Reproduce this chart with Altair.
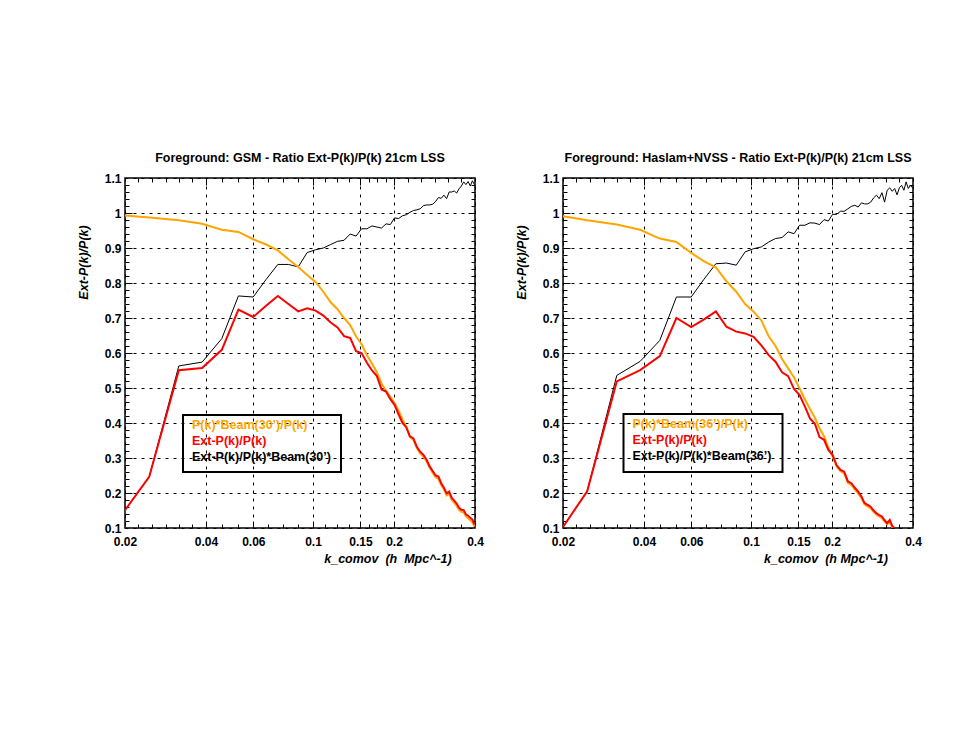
import altair as alt
import pandas as pd

# ---------------- data ----------------
K = [0.02, 0.0246, 0.0317, 0.0387, 0.0458, 0.0528, 0.0599, 0.0669, 0.0740, 0.0810,
     0.0881, 0.0951, 0.1022, 0.1092, 0.1163, 0.1233, 0.1304, 0.1374, 0.1445, 0.1515,
     0.1586, 0.1656, 0.1727, 0.1797, 0.1868, 0.1938, 0.2009, 0.2079, 0.2150, 0.2220,
     0.2291, 0.2361, 0.2432, 0.2502, 0.2573, 0.2643, 0.2714, 0.2784, 0.2855, 0.2925,
     0.2996, 0.3066, 0.3137, 0.3207, 0.3278, 0.3348, 0.3419, 0.3489, 0.3560, 0.3630,
     0.3701, 0.3771, 0.3842, 0.3912, 0.3983]

# Left panel: GSM
GSM_EXT_BEAM = [0.151, 0.246, 0.563, 0.574, 0.641, 0.763, 0.760, 0.810, 0.853, 0.853,
                0.846, 0.887, 0.895, 0.900, 0.910, 0.919, 0.922, 0.940, 0.934, 0.955,
                0.955, 0.963, 0.960, 0.957, 0.969, 0.967, 0.986, 0.984, 0.992, 0.995,
                1.002, 1.007, 1.009, 1.012, 1.021, 1.023, 1.023, 1.025, 1.033, 1.044,
                1.042, 1.051, 1.041, 1.060, 1.060, 1.063, 1.057, 1.069, 1.077, 1.089,
                1.081, 1.090, 1.077, 1.092, 1.081]
GSM_BEAM = [0.993, 0.987, 0.979, 0.969, 0.952, 0.946, 0.925, 0.910, 0.893, 0.868,
            0.846, 0.823, 0.803, 0.775, 0.745, 0.725, 0.700, 0.680, 0.648, 0.625,
            0.594, 0.570, 0.545, 0.513, 0.492, 0.475, 0.457, 0.435, 0.410, 0.390,
            0.360, 0.352, 0.328, 0.313, 0.304, 0.290, 0.272, 0.258, 0.245, 0.240,
            0.222, 0.210, 0.193, 0.198, 0.180, 0.172, 0.163, 0.152, 0.146, 0.144,
            0.133, 0.128, 0.122, 0.116, 0.104]
GSM_EXT = [0.151, 0.246, 0.551, 0.557, 0.609, 0.724, 0.703, 0.735, 0.763, 0.740,
           0.719, 0.728, 0.721, 0.707, 0.687, 0.673, 0.648, 0.643, 0.605, 0.600,
           0.572, 0.550, 0.534, 0.496, 0.490, 0.468, 0.452, 0.425, 0.400, 0.388,
           0.362, 0.356, 0.332, 0.318, 0.309, 0.295, 0.276, 0.263, 0.250, 0.247,
           0.228, 0.215, 0.199, 0.204, 0.186, 0.178, 0.170, 0.158, 0.152, 0.151,
           0.139, 0.135, 0.129, 0.124, 0.110]

# Right panel: Haslam+NVSS
HN_EXT_BEAM = [0.103, 0.205, 0.536, 0.576, 0.636, 0.760, 0.760, 0.811, 0.855, 0.857,
               0.851, 0.889, 0.898, 0.903, 0.917, 0.927, 0.930, 0.946, 0.941, 0.965,
               0.965, 0.972, 0.971, 0.967, 0.981, 0.977, 0.996, 0.996, 1.005, 1.005,
               1.012, 1.019, 1.022, 1.017, 1.029, 1.026, 1.026, 1.031, 1.043, 1.051,
               1.041, 1.058, 1.031, 1.065, 1.072, 1.062, 1.070, 1.052, 1.072, 1.079,
               1.065, 1.089, 1.070, 1.079, 1.072]
HN_BEAM = [0.991, 0.979, 0.967, 0.952, 0.927, 0.917, 0.886, 0.862, 0.845, 0.805,
           0.775, 0.740, 0.718, 0.693, 0.648, 0.620, 0.583, 0.556, 0.530, 0.499,
           0.468, 0.440, 0.415, 0.385, 0.362, 0.330, 0.305, 0.276, 0.262, 0.256,
           0.229, 0.223, 0.210, 0.199, 0.185, 0.167, 0.162, 0.156, 0.146, 0.138,
           0.133, 0.128, 0.118, 0.110, 0.118, 0.102, 0.095, 0.088]
HN_EXT = [0.103, 0.205, 0.519, 0.551, 0.591, 0.700, 0.674, 0.696, 0.719, 0.675,
          0.661, 0.656, 0.646, 0.622, 0.594, 0.575, 0.545, 0.534, 0.497, 0.480,
          0.447, 0.413, 0.398, 0.360, 0.352, 0.323, 0.309, 0.280, 0.266, 0.261,
          0.233, 0.228, 0.215, 0.204, 0.190, 0.171, 0.166, 0.161, 0.150, 0.142,
          0.137, 0.133, 0.122, 0.114, 0.123, 0.106, 0.099, 0.092]

# axis ticks / labels
X_LABELS = [0.02, 0.04, 0.06, 0.1, 0.15, 0.2, 0.4]
X_MAJOR = [0.04, 0.06, 0.1, 0.15, 0.2]
X_MINOR = [0.0224, 0.0252, 0.0283, 0.0317, 0.0356, 0.0458, 0.0524, 0.0682, 0.0775,
           0.0880, 0.1107, 0.1225, 0.1356, 0.1612, 0.1732, 0.1861, 0.2245, 0.2520,
           0.2830, 0.3170, 0.3560]
Y_LABELS = [0.1, 0.2, 0.3, 0.4, 0.5, 0.6, 0.7, 0.8, 0.9, 1.0, 1.1]
Y_TICKS = [round(0.1 + 0.02 * i, 2) for i in range(1, 50)]

TITLES = ["Foreground: GSM - Ratio Ext-P(k)/P(k) 21cm LSS",
          "Foreground: Haslam+NVSS - Ratio Ext-P(k)/P(k) 21cm LSS"]
X_TITLES = ["k_comov\u00a0\u00a0(h\u00a0\u00a0Mpc^-1)", "k_comov\u00a0\u00a0(h Mpc^-1)"]
Y_TITLE = "Ext-P(k)/P(k)"
LEGENDS = [["P(k)*Beam(30\u2019)/P(k)", "Ext-P(k)/P(k)", "Ext-P(k)/P(k)*Beam(30\u2019)"],
           ["P(k)*Beam(36\u2019)/P(k)", "Ext-P(k)/P(k)", "Ext-P(k)/P(k)*Beam(36\u2019)"]]

ORANGE = "#FFA500"
RED = "#FF0000"
BLACK = "#000000"
LEGEND_COLORS = [ORANGE, RED, BLACK]
FONT = "Liberation Sans"
W = 350
H = 350

xscale = alt.Scale(type="log", domain=[0.02, 0.4], nice=False)
yscale = alt.Scale(domain=[0.1, 1.1], nice=False, zero=False)

X_MAJOR_TEST = "indexof([0.04, 0.06, 0.1, 0.15, 0.2], datum.value) >= 0"
Y_MAJOR_TEST = "abs(datum.value * 10 - round(datum.value * 10)) < 0.001"


def series_df(vals):
    return pd.DataFrame({"k": K[:len(vals)], "r": vals})


def tick_axis(orient, values, test):
    return alt.Axis(orient=orient, offset=-W, values=values, labels=False,
                    domain=False, grid=False, ticks=True, tickColor="black",
                    tickWidth=1,
                    tickSize={"condition": {"test": test, "value": 7}, "value": 4},
                    title=None)


def panel(i, ext_beam, beam, ext, box, text_x):
    x_main = alt.Axis(orient="bottom", values=X_LABELS, format="~g", labelFlush=False,
                      labelOverlap=False, labelFont=FONT, labelFontSize=12,
                      labelFontWeight="bold", labelColor="black", labelPadding=8,
                      ticks=False, domain=False, grid=True, gridColor="black",
                      gridDash=[3, 5], gridWidth=1, gridOpacity=1,
                      title=X_TITLES[i], titleFont=FONT, titleFontSize=12.5,
                      titleFontWeight="bold", titleFontStyle="italic",
                      titleColor="black", titleX=262.5, titleY=34,
                      titleBaseline="alphabetic", titleAlign="center")
    y_main = alt.Axis(orient="left", values=Y_LABELS, format="~g", labelFont=FONT,
                      labelFontSize=12, labelFontWeight="bold", labelColor="black",
                      labelPadding=4, labelFlush=False, labelOverlap=False,
                      ticks=False, domain=False, grid=True, gridColor="black",
                      gridDash=[3, 5], gridWidth=1, gridOpacity=1,
                      title=Y_TITLE, titleFont=FONT, titleFontSize=12.5,
                      titleFontWeight="bold", titleFontStyle="italic",
                      titleColor="black", titleX=-35, titleY=84)

    black = alt.Chart(series_df(ext_beam)).mark_line(
        color=BLACK, strokeWidth=1, clip=True).encode(
        x=alt.X("k:Q", scale=xscale, axis=x_main),
        y=alt.Y("r:Q", scale=yscale, axis=y_main))

    orange = alt.Chart(series_df(beam)).mark_line(
        color=ORANGE, strokeWidth=2, clip=True).encode(
        x=alt.X("k:Q", scale=xscale,
                axis=tick_axis("top", X_MAJOR + X_MINOR, X_MAJOR_TEST)),
        y=alt.Y("r:Q", scale=yscale,
                axis=tick_axis("right", Y_TICKS, Y_MAJOR_TEST)))

    red = alt.Chart(series_df(ext)).mark_line(
        color=RED, strokeWidth=2, clip=True).encode(
        x=alt.X("k:Q", scale=xscale,
                axis=tick_axis("bottom", X_MAJOR + X_MINOR, X_MAJOR_TEST)),
        y=alt.Y("r:Q", scale=yscale,
                axis=tick_axis("left", Y_TICKS, Y_MAJOR_TEST)))

    dummy = pd.DataFrame({"d": [0]})
    x0, x1, y0, y1 = box
    rect = alt.Chart(dummy).mark_rect(
        fillOpacity=0, stroke="black", strokeWidth=2).encode(
        x=alt.value(x0), x2=alt.value(x1), y=alt.value(y0), y2=alt.value(y1))
    texts = []
    for j, (lab, col) in enumerate(zip(LEGENDS[i], LEGEND_COLORS)):
        texts.append(alt.Chart(dummy).mark_text(
            text=lab, color=col, font=FONT, fontSize=12.5, fontWeight="bold",
            align="left", baseline="middle").encode(
            x=alt.value(text_x), y=alt.value(y0 + 10 + 16 * j)))

    return alt.layer(black, orange, red, rect, *texts).properties(
        width=W, height=H,
        title=alt.TitleParams(TITLES[i], font=FONT, fontSize=12.5, fontWeight="bold",
                              color="black", anchor="middle", frame="group",
                              offset=8)
    ).resolve_axis(x="independent", y="independent")


left = panel(0, GSM_EXT_BEAM, GSM_BEAM, GSM_EXT, (58, 216, 237, 294), 67)
right = panel(1, HN_EXT_BEAM, HN_BEAM, HN_EXT, (60.5, 219.5, 236, 294), 69.5)

chart = alt.hconcat(left, right, spacing=29).properties(
    padding={"left": 68, "top": 142, "right": 5, "bottom": 5},
    background="white",
).configure_view(stroke="black", strokeWidth=1.5)

chart.save("out.html", embed_options={"renderer": "svg", "actions": False})
